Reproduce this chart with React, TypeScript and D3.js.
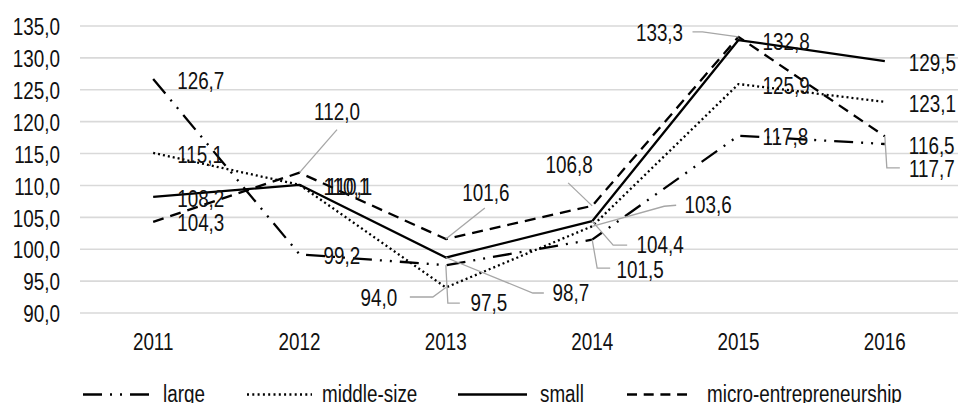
import React from "react";
import * as d3 from "d3";

// Index values by enterprise size class, 2011–2016
const years = ["2011", "2012", "2013", "2014", "2015", "2016"];
const large = [126.7, 99.2, 97.5, 101.5, 117.8, 116.5];
const middleSize = [115.1, 110.1, 94.0, 103.6, 125.9, 123.1];
const small = [108.2, 110.1, 98.7, 104.4, 132.8, 129.5];
const micro = [104.3, 112.0, 101.6, 106.8, 133.3, 117.7];
const seriesNames = ["large", "middle-size", "small", "micro-entrepreneurship"];
const yTicks = [90, 95, 100, 105, 110, 115, 120, 125, 130, 135];

const W = 959;
const H = 403;
const FONT = "'Liberation Sans', Arial, sans-serif";
const TEXT = "#111";
const LEADER = "#a6a6a6";
const NARROW = 0.82;

type Label =
  | { kind: "right"; dx?: number }
  | { kind: "callout"; lx: number; ly: number; path: [number, number][] };

// label placement per series, per year
const R: Label = { kind: "right" };
const labelLayout: Label[][] = [
  // large
  [R, R,
    { kind: "callout", lx: 43, ly: 38, path: [[0, 0], [2, 38], [14, 38]] },
    { kind: "callout", lx: 48, ly: 30, path: [[0, 0], [5, 28.5], [18, 28.5]] },
    R, R],
  // middle-size
  [R, { kind: "right", dx: 27 },
    { kind: "callout", lx: -67, ly: 10.5, path: [[0, 0], [-13, 9.5], [-36, 9.5]] },
    { kind: "callout", lx: 116, ly: -21, path: [[0, 0], [72, -20], [84, -21]] },
    R, R],
  // small
  [R, R,
    { kind: "callout", lx: 125, ly: 35.5, path: [[0, 0], [87, 35.5], [98, 35.5]] },
    { kind: "callout", lx: 68, ly: 24, path: [[0, 0], [21, 24], [35, 24]] },
    R, R],
  // micro
  [R,
    { kind: "callout", lx: 37.5, ly: -60.7, path: [[0, 0], [37.5, -43]] },
    { kind: "callout", lx: 40, ly: -46, path: [[0, 0], [39, -31]] },
    { kind: "callout", lx: -23, ly: -41, path: [[0, 0], [-24, -23]] },
    { kind: "callout", lx: -79, ly: -4, path: [[0, 0], [-36, -5], [-46, -5]] },
    { kind: "callout", lx: 47, ly: 32, path: [[0, 0], [2, 31.5], [15, 31.5]] }],
];

const dashes = ["19 8 2 8 2 8", "2 3", "", "11 7"];
const legendDashes = ["19 8 2 8 2 8", "2 3.3", "", "10 6.7"];
const legendItems = [
  { x0: 83, x1: 150, tx: 163 },
  { x0: 247, x1: 312, tx: 322 },
  { x0: 458, x1: 527, tx: 540 },
  { x0: 627, x1: 687, tx: 707 },
];

const fmt = (v: number) => v.toFixed(1).replace(".", ",");

// condensed text: horizontally squeezed sans-serif
function NText({
  x,
  y,
  anchor = "start",
  children,
}: {
  x: number;
  y: number;
  anchor?: "start" | "middle" | "end";
  children: React.ReactNode;
}) {
  return (
    <text
      transform={`translate(${x},${y}) scale(${NARROW},1)`}
      textAnchor={anchor}
      dominantBaseline="central"
      fontSize={23}
      fill={TEXT}
    >
      {children}
    </text>
  );
}

export default function App() {
  const data = [large, middleSize, small, micro];
  const x = d3.scaleBand<string>().domain(years).range([80, 958]).padding(0);
  const cx = (yr: string) => (x(yr) ?? 0) + x.bandwidth() / 2;
  const y = d3.scaleLinear().domain([90, 135]).range([313, 26]);
  const line = d3
    .line<number>()
    .x((_, i) => cx(years[i]))
    .y((v) => y(v));

  return (
    <svg
      width={W}
      height={H}
      style={{ position: "absolute", left: 0, top: 0, background: "#fff" }}
      fontFamily={FONT}
    >
      {/* gridlines and value axis */}
      {yTicks.map((t) => (
        <g key={t}>
          <line x1={80} x2={958} y1={y(t)} y2={y(t)} stroke="#d9d9d9" strokeWidth={1.6} />
          <NText x={60} y={y(t) + 1} anchor="end">
            {fmt(t)}
          </NText>
        </g>
      ))}
      {/* category axis */}
      {years.map((yr) => (
        <NText key={yr} x={cx(yr)} y={342} anchor="middle">
          {yr}
        </NText>
      ))}
      {/* series lines */}
      {data.map((s, i) => (
        <path
          key={seriesNames[i]}
          d={line(s) ?? ""}
          fill="none"
          stroke="#000"
          strokeWidth={2.3}
          strokeDasharray={dashes[i] || undefined}
          strokeLinejoin="round"
        />
      ))}
      {/* leader lines */}
      {data.map((s, i) =>
        s.map((v, j) => {
          const lay = labelLayout[i][j];
          if (lay.kind !== "callout") return null;
          const px = cx(years[j]);
          const py = y(v);
          const pts = lay.path.map(([a, b]) => [px + a, py + b] as [number, number]);
          return (
            <path
              key={`l${i}-${j}`}
              d={d3.line()(pts) ?? ""}
              fill="none"
              stroke={LEADER}
              strokeWidth={1.3}
            />
          );
        })
      )}
      {/* data labels */}
      {data.map((s, i) =>
        s.map((v, j) => {
          const lay = labelLayout[i][j];
          const px = cx(years[j]);
          const py = y(v);
          if (lay.kind === "right") {
            return (
              <NText key={`t${i}-${j}`} x={px + (lay.dx ?? 24)} y={py + 1.5}>
                {fmt(v)}
              </NText>
            );
          }
          return (
            <NText key={`t${i}-${j}`} x={px + lay.lx} y={py + lay.ly} anchor="middle">
              {fmt(v)}
            </NText>
          );
        })
      )}
      {/* legend */}
      {legendItems.map((it, i) => (
        <g key={seriesNames[i]}>
          <line
            x1={it.x0}
            x2={it.x1}
            y1={394.5}
            y2={394.5}
            stroke="#000"
            strokeWidth={2.6}
            strokeDasharray={legendDashes[i] || undefined}
          />
          <NText x={it.tx} y={394}>
            {seriesNames[i]}
          </NText>
        </g>
      ))}
    </svg>
  );
}
